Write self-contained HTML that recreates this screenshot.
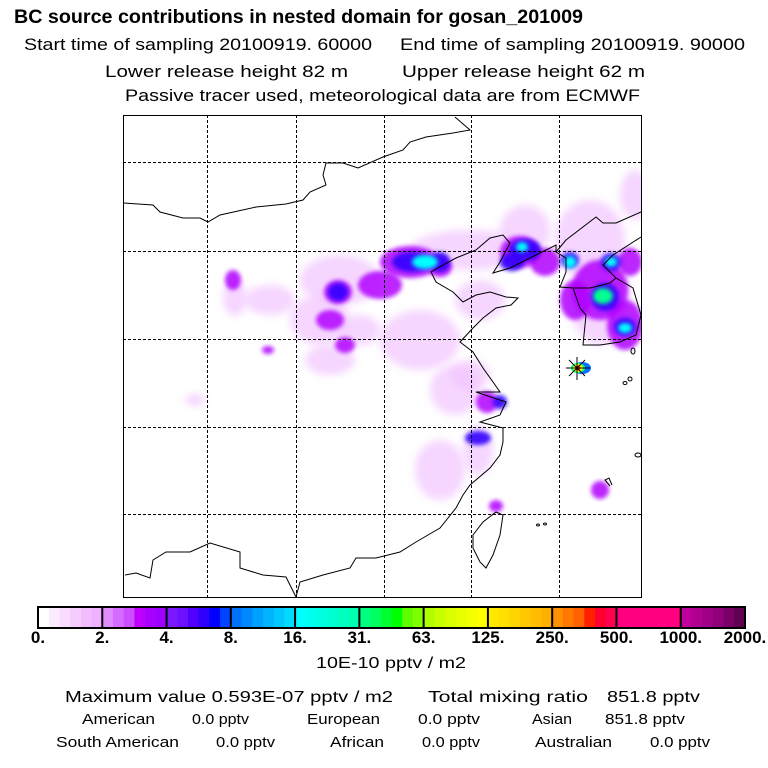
<!DOCTYPE html>
<html><head><meta charset="utf-8"><style>
html,body{margin:0;padding:0;background:#fff;}
svg{display:block;font-family:"Liberation Sans",Arial,sans-serif;}
</style></head><body>
<svg id="chart" width="768" height="768" viewBox="0 0 768 768">
<defs>
<filter id="blur4" x="-50%" y="-50%" width="200%" height="200%"><feGaussianBlur stdDeviation="4"/></filter>
<filter id="blur2" x="-50%" y="-50%" width="200%" height="200%"><feGaussianBlur stdDeviation="2"/></filter>
<clipPath id="mapclip"><rect x="123" y="115" width="519" height="483"/></clipPath>
</defs>
<g fill="#000">
<text x="14" y="23" font-size="19" font-weight="bold" textLength="569" lengthAdjust="spacingAndGlyphs">BC  source contributions in nested domain for gosan_201009</text>
<text x="24" y="50" font-size="17" textLength="348" lengthAdjust="spacingAndGlyphs">Start time of sampling 20100919. 60000</text>
<text x="400" y="50" font-size="17" textLength="345" lengthAdjust="spacingAndGlyphs">End time of sampling 20100919. 90000</text>
<text x="105" y="77" font-size="17" textLength="243" lengthAdjust="spacingAndGlyphs">Lower release height   82 m</text>
<text x="402" y="77" font-size="17" textLength="243" lengthAdjust="spacingAndGlyphs">Upper release height   62 m</text>
<text x="125" y="101" font-size="17" textLength="515" lengthAdjust="spacingAndGlyphs">Passive tracer used, meteorological data are from ECMWF</text>
</g>
<g id="map" clip-path="url(#mapclip)">
<rect x="123" y="115" width="519" height="483" fill="#fff"/>
<g id="plumes"></g>
<g id="grid" stroke="#000" stroke-width="1" stroke-dasharray="3,2"></g>
<g fill="none" stroke="#000" stroke-width="1">
<polyline points="124,203 153,205 160,212 183,218 200,218 208,222 220,215 256,207 286,204 303,200 310,192 326,185 323,175 326,163 343,163 358,168 383,157 403,150 410,142 426,137 453,133 470,130 455,117"/>
<polyline points="556,252 556,245 536,255 510,268 493,273 500,262 510,243 503,235 490,238 476,250 456,258 443,265 431,272 436,282 453,292 463,302 476,295 490,292 506,297 518,298 511,305 496,308 483,318 473,328 460,342 473,352 483,368 493,382 500,392 476,392 506,402 500,415 480,422 503,428 503,442 500,455 490,468 470,485 463,495 456,508 440,528 416,542 400,552 376,558 356,558 350,568 323,575 300,582 296,597"/>
<polyline points="125,575 136,573 150,578 153,560 166,552 190,552 210,543 240,552 240,568 263,575 286,577 296,597"/>
<polygon points="496,512 503,515 500,535 493,555 486,568 480,562 473,548 473,535 483,522"/>
<polyline points="556,252 566,240 596,217 603,223 616,223 641,212"/>
<polyline points="641,237 613,255 603,265 616,278 633,288 641,315 636,335 620,342 600,345 583,345 586,315 580,308 573,288 560,287 566,272 566,258 556,252"/>
<polyline points="573,288 590,288 610,283 616,278"/>
<ellipse cx="633" cy="351" rx="2" ry="3"/><ellipse cx="630" cy="379" rx="2" ry="2"/><ellipse cx="625" cy="383" rx="2" ry="1.5"/>
<ellipse cx="638" cy="455" rx="3" ry="2"/><polyline points="610,486 605,480 609,478 612,485"/>
<ellipse cx="538" cy="525" rx="1.5" ry="1"/><ellipse cx="545" cy="524" rx="1.5" ry="1"/>
</g>
<g stroke="#000" stroke-width="1">
<line x1="566" y1="368" x2="590" y2="368"/><line x1="577" y1="357" x2="577" y2="380"/>
<line x1="569" y1="360" x2="585" y2="376"/><line x1="569" y1="376" x2="585" y2="360"/>
</g>
</g>
<rect x="123.5" y="115.5" width="518" height="482" fill="none" stroke="#000" stroke-width="1"/>
<g id="colorbar"></g>
<g fill="#000" font-size="15">
<text x="391" y="668" text-anchor="middle" font-size="16" textLength="150" lengthAdjust="spacingAndGlyphs">10E-10 pptv / m2</text>
<text x="65" y="702" font-size="16" textLength="328" lengthAdjust="spacingAndGlyphs">Maximum value  0.593E-07 pptv / m2</text>
<text x="428" y="702" font-size="16" textLength="160" lengthAdjust="spacingAndGlyphs">Total mixing ratio</text>
<text x="607" y="702" font-size="16" textLength="93" lengthAdjust="spacingAndGlyphs">851.8 pptv</text>
<text x="82" y="724" textLength="73" lengthAdjust="spacingAndGlyphs">American</text>
<text x="192" y="724" textLength="57" lengthAdjust="spacingAndGlyphs">0.0 pptv</text>
<text x="307" y="724" textLength="73" lengthAdjust="spacingAndGlyphs">European</text>
<text x="418" y="724" textLength="62" lengthAdjust="spacingAndGlyphs">0.0 pptv</text>
<text x="532" y="724" textLength="40" lengthAdjust="spacingAndGlyphs">Asian</text>
<text x="605" y="724" textLength="80" lengthAdjust="spacingAndGlyphs">851.8 pptv</text>
<text x="56" y="747" textLength="123" lengthAdjust="spacingAndGlyphs">South American</text>
<text x="216" y="747" textLength="59" lengthAdjust="spacingAndGlyphs">0.0 pptv</text>
<text x="330" y="747" textLength="54" lengthAdjust="spacingAndGlyphs">African</text>
<text x="422" y="747" textLength="58" lengthAdjust="spacingAndGlyphs">0.0 pptv</text>
<text x="535" y="747" textLength="77" lengthAdjust="spacingAndGlyphs">Australian</text>
<text x="650" y="747" textLength="60" lengthAdjust="spacingAndGlyphs">0.0 pptv</text>
</g>
</svg>
<script>
var tickLabels = ["0.","2.","4.","8.","16.","31.","63.","125.","250.","500.","1000.","2000."];
var segColors = [
 ["#ffffff","#fcecff","#f9dcff","#f6ccff","#f2bcff","#efb0ff"],
 ["#e08cff","#d66cff","#cc4cff","#c000ff","#a800ff","#9c00ff"],
 ["#7c18ff","#6c10ff","#5000ff","#3000ff","#0000ff","#0044ff"],
 ["#0070ff","#0088ff","#00a0ff","#00b4ff","#00c8ff","#00dcff"],
 ["#00ffff","#00fff0","#00ffe0","#00ffd0","#00ffc0","#00ffb0"],
 ["#00ff80","#00ff60","#00ff30","#00ff00","#60ff00","#80ff00"],
 ["#b0ff00","#c8ff00","#d8ff00","#e8ff00","#f4ff00","#ffff00"],
 ["#ffe800","#ffe000","#ffd400","#ffc800","#ffbc00","#ffb000"],
 ["#ff9000","#ff7800","#ff6000","#ff2000","#ff0030","#ff0050"],
 ["#ff0080","#ff0080","#ff0080","#ff0080","#ff0080","#ff0080"],
 ["#c0009c","#b00090","#a00088","#900078","#780068","#600050"]
];
// plume blobs: [cx, cy, rx, ry, level]
var blobX = [340,470,320,420,455,440,478,590,600,635,525,480,470,235,195,270,330,360,
             380,410,338,233,330,345,440,520,545,575,600,625,630,600,487,496,268,
             338,412,440,525,512,570,611,605,625,500,478,
             425,522,603,611,625,570];
var blobY = [280,250,320,340,390,470,450,240,300,195,230,300,375,298,400,300,360,330,
             285,262,292,280,320,345,267,252,262,300,290,325,262,490,402,506,350,
             292,262,262,250,262,260,262,297,327,402,438,
             262,247,296,262,328,262];
var blobRx = [40,60,30,40,25,25,15,35,30,15,25,25,20,12,10,25,25,20,
              22,30,14,8,14,10,12,20,15,15,28,18,12,9,11,7,6,
              10,20,10,16,12,9,10,14,11,7,13,
              13,6,10,6,7,6];
var blobRy = [25,20,25,30,25,30,25,40,45,25,25,20,15,18,6,15,15,15,
              14,16,12,10,10,8,10,16,14,20,30,25,14,9,11,6,4,
              9,10,10,11,9,8,9,14,9,7,7,
              7,5,8,5,5,6];
var blobLevel = [0,0,0,0,0,0,0,0,0,0,0,0,0,0,0,0,0,0,
                 1,1,1,1,1,1,1,1,1,1,1,1,1,1,1,1,1,
                 2,2,2,2,2,2,2,2,2,2,2,
                 4,4,5,4,4,4];
var levelColors = ["#f2c4ff","#b000ff","#3000ff","#00a8ff","#00ffff","#00ff90"];
var levelOpacity = [0.7,0.85,0.9,0.95,1,1];
var gridXs = [207,296,384,471,559];
var gridYs = [162,251,339,427,514];

var NS='http://www.w3.org/2000/svg';
function mk(tag,attrs,parent){var e=document.createElementNS(NS,tag);for(var k in attrs)e.setAttribute(k,attrs[k]);parent.appendChild(e);return e;}

var plumes=document.getElementById('plumes');
for(var i=0;i<blobX.length;i++){
  var lv=blobLevel[i];
  var b=mk('ellipse',{cx:blobX[i],cy:blobY[i],rx:blobRx[i],ry:blobRy[i],fill:levelColors[lv],'fill-opacity':levelOpacity[lv],filter:lv==0?'url(#blur4)':'url(#blur2)'},plumes);
  
  
}
var hs=[["#0070ff",9,6],["#00ff80",7,5],["#ffff00",5,4],["#ff2000",2.5,2.5]];
for(var h=0;h<hs.length;h++){
  var e=mk('ellipse',{cx:h==0?582:578,cy:368,rx:hs[h][1],ry:hs[h][2],fill:hs[h][0]},plumes);
  
  
}

var grid=document.getElementById('grid');
gridXs.forEach(function(x){var l=mk('line',{x1:x+0.5,y1:115,x2:x+0.5,y2:598},grid);
  
  });
gridYs.forEach(function(y){var l=mk('line',{x1:123,y1:y+0.5,x2:642,y2:y+0.5},grid);
  
  });

var cb=document.getElementById('colorbar');
var cbX0=38, cbX1=745, cbY=607, cbH=21;
var segW=(cbX1-cbX0)/segColors.length;
for(var s=0;s<segColors.length;s++){
  var sub=segColors[s], sw=segW/sub.length;
  for(var j=0;j<sub.length;j++){
    var r=mk('rect',{x:cbX0+s*segW+j*sw,y:cbY,width:sw+0.6,height:cbH,fill:sub[j]},cb);
    
    
  }
}
for(var s=1;s<segColors.length;s++){
  var d=mk('line',{x1:cbX0+s*segW,y1:cbY,x2:cbX0+s*segW,y2:cbY+cbH,stroke:'#000','stroke-width':2},cb);
  
  
}
var fr=mk('rect',{x:cbX0,y:cbY,width:cbX1-cbX0,height:cbH,fill:'none',stroke:'#000','stroke-width':2},cb);


for(var t=0;t<tickLabels.length;t++){
  var tx=mk('text',{x:cbX0+t*segW,y:643,'text-anchor':'middle','font-size':17,'font-weight':'bold'},cb);
  tx.textContent=tickLabels[t];
  
  
}
</script>
</body></html>
